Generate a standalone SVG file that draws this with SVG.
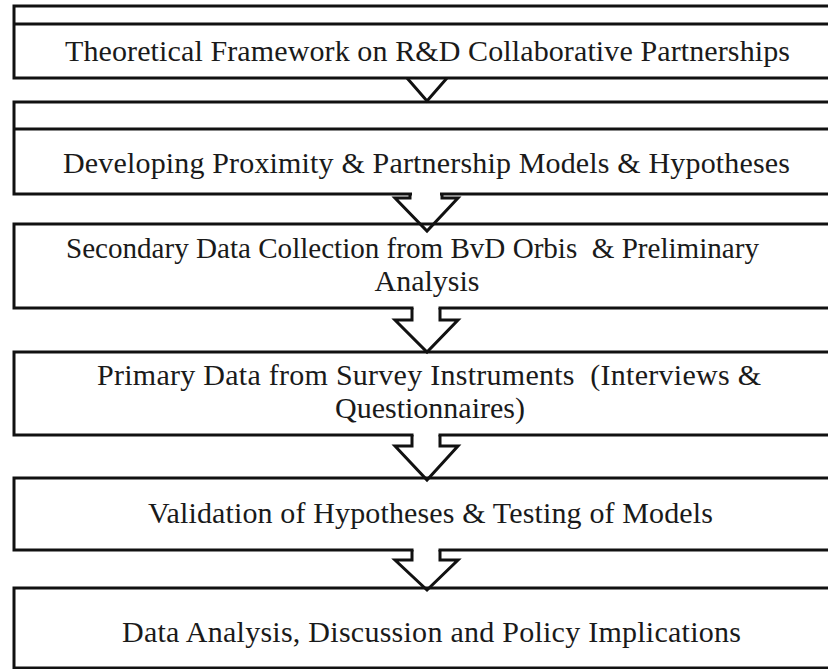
<svg xmlns="http://www.w3.org/2000/svg" width="828" height="669" viewBox="0 0 828 669">
  <style>
    .box { fill: none; stroke: #111; stroke-width: 3; }
    .rule { stroke: #111; stroke-width: 3; }
    .lbl { font-family: "Liberation Serif", "Times New Roman", serif; font-size: 30px; fill: #1a1a1a; }
    .mid { text-anchor: middle; }
    .arrow { fill: none; stroke: #111; stroke-width: 3; stroke-linejoin: miter; }
    .gap { fill: #fff; }
  </style>
  <rect x="0" y="0" width="828" height="669" fill="#fff"/>

  <g id="nodes">
    <g id="theory">
      <rect class="box" x="14" y="6" width="830" height="72"/>
      <line class="rule" x1="14" y1="24" x2="844" y2="24"/>
      <text class="lbl" x="65" y="61" textLength="725" lengthAdjust="spacing">Theoretical Framework on R&amp;D Collaborative Partnerships</text>
    </g>
    <g id="models">
      <rect class="box" x="14" y="102" width="830" height="92"/>
      <line class="rule" x1="14" y1="129" x2="844" y2="129"/>
      <text class="lbl" x="63" y="173" textLength="727" lengthAdjust="spacing">Developing Proximity &amp; Partnership Models &amp; Hypotheses</text>
    </g>
    <g id="secondary">
      <rect class="box" x="14" y="224" width="830" height="84"/>
      <text class="lbl" x="66" y="258" xml:space="preserve" textLength="693" lengthAdjust="spacingAndGlyphs">Secondary Data Collection from BvD Orbis  &amp; Preliminary</text>
      <text class="lbl mid" x="427" y="291">Analysis</text>
    </g>
    <g id="primary">
      <rect class="box" x="14" y="352" width="830" height="83"/>
      <text class="lbl" x="97" y="385" xml:space="preserve" textLength="664" lengthAdjust="spacing">Primary Data from Survey Instruments  (Interviews &amp;</text>
      <text class="lbl mid" x="430" y="418">Questionnaires)</text>
    </g>
    <g id="validation">
      <rect class="box" x="14" y="478" width="830" height="72"/>
      <text class="lbl" x="148" y="523" textLength="565" lengthAdjust="spacing">Validation of Hypotheses &amp; Testing of Models</text>
    </g>
    <g id="analysis">
      <rect class="box" x="14" y="588" width="830" height="80"/>
      <text class="lbl" x="122" y="642" textLength="619" lengthAdjust="spacing">Data Analysis, Discussion and Policy Implications</text>
    </g>
  </g>

  <g id="connectors">
    <!-- theory -> models: plain triangle hanging from the box edge -->
    <path class="arrow" d="M407,78 L427,101 L447,78"/>
    <!-- models -> secondary: short stem, open head -->
    <rect class="gap" x="412" y="191" width="28" height="6"/>
    <path class="arrow" d="M410,194 L410,198 L395,198 L427,231 L458,198 L442,198 L442,194"/>
    <!-- secondary -> primary -->
    <rect class="gap" x="413.5" y="305" width="25" height="14"/>
    <path class="arrow" d="M412,308 L412,320 L395,320 L427,352 L458,320 L440,320 L440,308"/>
    <!-- primary -> validation -->
    <rect class="gap" x="413.5" y="432" width="25" height="13"/>
    <path class="arrow" d="M412,435 L412,446 L395,446 L427,480 L458,446 L440,446 L440,435"/>
    <!-- validation -> analysis -->
    <rect class="gap" x="413.5" y="547" width="25" height="13"/>
    <path class="arrow" d="M412,550 L412,560 L395,560 L427,590 L458,560 L440,560 L440,550"/>
  </g>
</svg>
